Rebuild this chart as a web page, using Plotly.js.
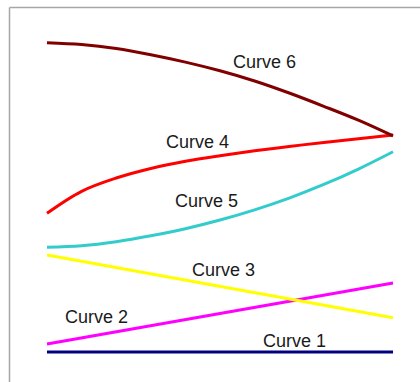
<!DOCTYPE html>
<html>
<head>
<meta charset="utf-8">
<script src="https://cdn.plot.ly/plotly-3.0.1.min.js"></script>
<style>html,body{margin:0;padding:0;background:#fff;}#chart{width:420px;height:382px;}</style>
</head>
<body>
<div id="chart"></div>
<script>
// x positions shared by the curved series
const xs = [0, 1, 2, 3, 4, 5, 6, 7, 8, 9, 10];
const xEnds = [0, 10];

// series values
const curve1 = [0, 0];
const curve2 = [0.26, 2.23];
const curve3 = [3.14, 1.11];
const curve4 = [4.49, 5.20, 5.63, 5.94, 6.17, 6.35, 6.51, 6.65, 6.78, 6.90, 7.02];
const curve5 = [3.39, 3.44, 3.57, 3.76, 3.99, 4.27, 4.60, 4.98, 5.42, 5.92, 6.48];
const curve6 = [10.01, 9.95, 9.82, 9.62, 9.38, 9.10, 8.77, 8.38, 7.95, 7.50, 6.99];

// label names and positions (data units)
const labels = ["Curve 1", "Curve 2", "Curve 3", "Curve 4", "Curve 5", "Curve 6"];
const labelX = [7.14, 1.42, 5.09, 4.36, 4.60, 6.30];
const labelY = [0.36, 1.13, 2.65, 6.80, 4.89, 9.39];

const colors = ["#000080", "#ff00ff", "#ffff00", "#ff0000", "#33cccc", "#800000"];

const series = [
  {x: xEnds, y: curve1},
  {x: xEnds, y: curve2},
  {x: xEnds, y: curve3},
  {x: xs, y: curve4},
  {x: xs, y: curve5},
  {x: xs, y: curve6}
];

const traces = series.map((s, i) => ({
  x: s.x, y: s.y, type: 'scatter', mode: 'lines',
  line: {color: colors[i], width: 3, shape: 'spline', smoothing: 1},
  name: labels[i], hoverinfo: 'skip'
}));

const annotations = labels.map((t, i) => ({
  x: labelX[i], y: labelY[i], xref: 'x', yref: 'y', text: t, showarrow: false,
  xanchor: 'center', yanchor: 'middle',
  font: {family: 'Liberation Sans, Arial, sans-serif', size: 18, color: '#1a1a1a'}
}));

const frameColor = '#a6a6a6';
const layout = {
  width: 420, height: 382,
  margin: {l: 0, r: 0, t: 0, b: 0, pad: 0},
  paper_bgcolor: '#ffffff', plot_bgcolor: '#ffffff',
  showlegend: false,
  xaxis: {range: [-1.358, 10.78], visible: false, fixedrange: true},
  yaxis: {range: [-0.971, 11.39], visible: false, fixedrange: true},
  annotations: annotations,
  shapes: [
    {type: 'line', xref: 'paper', yref: 'paper', x0: 9.5/420, x1: 1, y0: 1 - 7.5/382, y1: 1 - 7.5/382, line: {color: frameColor, width: 1.5}},
    {type: 'line', xref: 'paper', yref: 'paper', x0: 9.5/420, x1: 9.5/420, y0: 0, y1: 1 - 7.5/382, line: {color: frameColor, width: 1.5}}
  ]
};

Plotly.newPlot('chart', traces, layout, {staticPlot: true, displayModeBar: false});
</script>
</body>
</html>
